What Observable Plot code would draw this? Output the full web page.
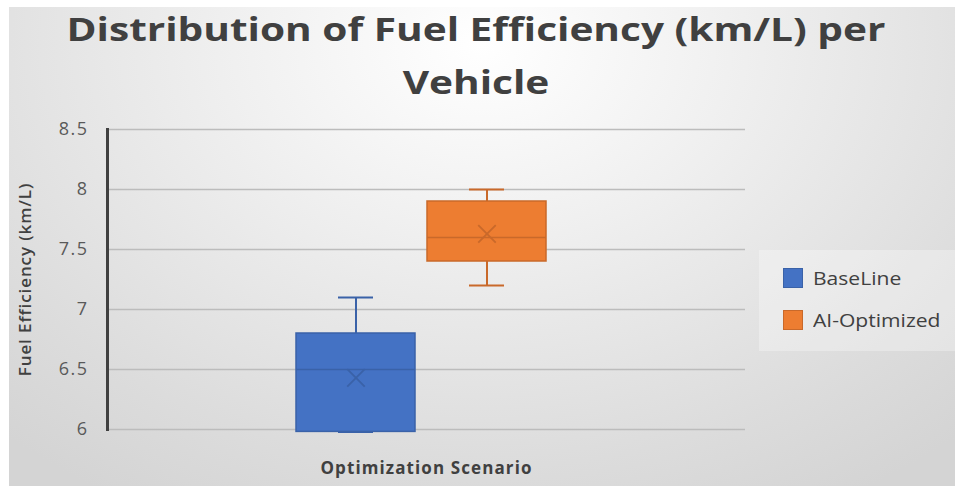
<!DOCTYPE html>
<html>
<head>
<meta charset="utf-8">
<script src="https://cdn.jsdelivr.net/npm/d3@7"></script>
<script src="https://cdn.jsdelivr.net/npm/@observablehq/plot@0.6"></script>
<style>
  html, body { margin: 0; padding: 0; background: #ffffff; }
  #wrap { position: relative; width: 955px; height: 486px; overflow: hidden; background: #fff; }
  #bg { position: absolute; left: 9px; top: 7px; right: 0; bottom: 0;
        background: radial-gradient(ellipse 75% 110% at 50% 8%, #ffffff 0%, #f0f0f0 35%, #dcdcdc 80%, #d4d4d4 100%); }
  #title { position: absolute; left: 0; width: 955px; top: 2px; text-align: center;
           font-family: "Open Sans", sans-serif; font-weight: 700; font-size: 33px; line-height: 53px; color: #404040;
           transform: scaleX(1.23); transform-origin: 484px 0; }
  #chart { position: absolute; left: 0; top: 0; }
  #legend { position: absolute; left: 759px; top: 250px; width: 196px; height: 101px;
            background: rgba(255,255,255,0.3); font-family: "Open Sans", sans-serif; font-size: 18px; color: #404040; }
  .item { position: absolute; left: 24px; display: flex; align-items: center; }
  .sw { width: 20px; height: 20px; margin-right: 10px; box-sizing: border-box; flex: none; }
  .lab { display: inline-block; transform: scaleX(1.17); transform-origin: 0 50%; }
</style>
</head>
<body>
<div id="wrap">
  <div id="bg"></div>
  <div id="chart"></div>
  <div id="title">Distribution of Fuel Efficiency (km/L) per<br>Vehicle</div>
  <div id="legend"></div>
</div>
<script>
const series = ["BaseLine", "AI-Optimized"];
const minVals = [5.98, 7.2];
const q1Vals = [5.98, 7.4];
const medianVals = [6.5, 7.6];
const q3Vals = [6.8, 7.9];
const maxVals = [7.1, 8.0];
const meanVals = [6.43, 7.63];
const yTicks = [6, 6.5, 7, 7.5, 8, 8.5];
const fills = ["#4472C4", "#ED7D31"];
const strokes = ["#3a62a8", "#c9692a"];

const rows = series.map((s, i) => ({
  s, min: minVals[i], q1: q1Vals[i], med: medianVals[i], q3: q3Vals[i], max: maxVals[i], mean: meanVals[i],
  fill: fills[i], stroke: strokes[i]
}));

const plot = Plot.plot({
  width: 955,
  height: 486,
  marginLeft: 107,
  marginRight: 210,
  marginTop: 129,
  marginBottom: 57,
  style: { background: "transparent", fontFamily: "Open Sans, sans-serif" },
  x: { domain: series, range: [295, 547], paddingInner: 0.09, paddingOuter: 0, axis: null },
  y: { domain: [6, 8.5], ticks: yTicks },
  marks: [
    Plot.gridY(yTicks, { stroke: "#bcbcbc", strokeOpacity: 1, strokeWidth: 1.5 }),
    Plot.axisY(yTicks, { tickSize: 0, tickPadding: 19, fontSize: 18, fill: "#595959", label: null, tickFormat: d => String(d) }),
    Plot.text(["Fuel Efficiency (km/L)"], { frameAnchor: "left", textAnchor: "middle", dx: -82, rotate: -90, fontSize: 17, fontWeight: 600, fill: "#404040", className: "ylab" }),
    Plot.text(["Optimization Scenario"], { frameAnchor: "bottom", dy: 44, fontSize: 17, fontWeight: 700, fill: "#404040", className: "xlab" }),
    Plot.ruleX(rows, { x: "s", y1: "min", y2: "q1", stroke: "stroke", strokeWidth: 2 }),
    Plot.ruleX(rows, { x: "s", y1: "q3", y2: "max", stroke: "stroke", strokeWidth: 2 }),
    Plot.tickY(rows, { x: "s", y: "min", stroke: "stroke", strokeWidth: 2, insetLeft: 42, insetRight: 42 }),
    Plot.tickY(rows, { x: "s", y: "max", stroke: "stroke", strokeWidth: 2, insetLeft: 42, insetRight: 42 }),
    Plot.barY(rows, { x: "s", y1: "q1", y2: "q3", fill: "fill", stroke: "stroke", strokeWidth: 1.5 }),
    Plot.tickY(rows, { x: "s", y: "med", stroke: "stroke", strokeWidth: 1.5 }),
    Plot.dot(rows, { x: "s", y: "mean", symbol: "times", r: 8, stroke: "stroke", strokeWidth: 1.8 }),
    Plot.frame({ anchor: "left", stroke: "#404040", strokeWidth: 3 })
  ]
});
document.getElementById("chart").appendChild(plot);

// widen glyph spacing to match the reference's broad lettering
const svg = d3.select(plot);
svg.selectAll('g[aria-label="y-axis tick label"] text').style("letter-spacing", "1.5px");
svg.selectAll('.ylab text, g.ylab text').style("letter-spacing", "0.9px");
svg.selectAll('.xlab text, g.xlab text').style("letter-spacing", "1.1px");

const legend = document.getElementById("legend");
series.forEach((s, i) => {
  const item = document.createElement("div");
  item.className = "item";
  item.style.top = (i === 0 ? 16 : 58) + "px";
  const sw = document.createElement("div");
  sw.className = "sw";
  sw.style.background = fills[i];
  sw.style.border = "1px solid " + strokes[i];
  const lab = document.createElement("span");
  lab.className = "lab";
  lab.textContent = s;
  item.appendChild(sw);
  item.appendChild(lab);
  legend.appendChild(item);
});
</script>
</body>
</html>
